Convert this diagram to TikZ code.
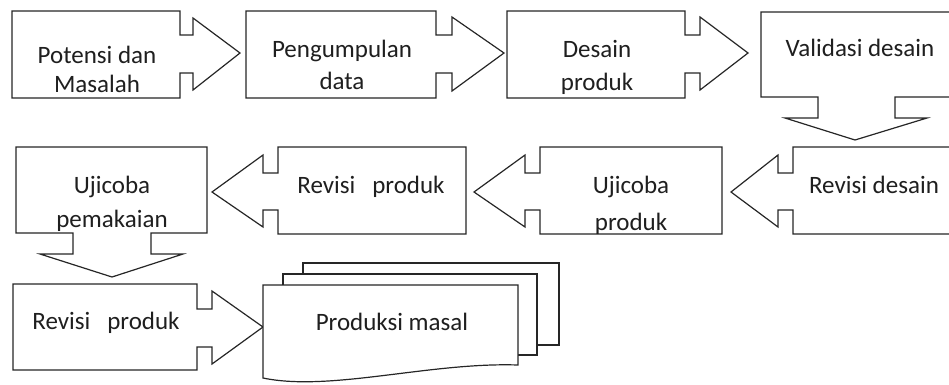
\documentclass[tikz,border=0pt]{standalone}
\usepackage{fontspec}
\setmainfont{Carlito}
\begin{document}
\begin{tikzpicture}[x=1pt,y=-1pt,
  shapeline/.style={draw=black!85,line width=1.2pt,line join=miter,fill=white},
  lbl/.style={anchor=base,inner sep=0pt,text=black!88,font=\fontsize{25}{29}\selectfont}]
\useasboundingbox (0,0) rectangle (949,384);
\clip (0,0) rectangle (949,384);
% Row 1
\path[shapeline] (12,11)--(180,11)--(180,35)--(193,35)--(193,18)--(240,53)--(193,90)--(193,73)--(180,73)--(180,98)--(12,98)--cycle;
\path[shapeline] (246,11)--(436,11)--(436,35)--(452,35)--(452,17)--(504,53)--(452,91)--(452,73)--(436,73)--(436,98)--(246,98)--cycle;
\path[shapeline] (507,11)--(685,11)--(685,35)--(700,35)--(700,17)--(748,53)--(700,90)--(700,73)--(685,73)--(685,98)--(507,98)--cycle;
\path[shapeline] (761,12)--(960,12)--(960,97)--(895,97)--(895,118)--(927,118)--(855,140)--(785,118)--(818,118)--(818,97)--(761,97)--cycle;
% Row 2
\path[shapeline] (960,147)--(793,147)--(793,173)--(778,173)--(778,155)--(731,192)--(778,227)--(778,210)--(793,210)--(793,234)--(960,234)--cycle;
\path[shapeline] (722,147)--(540,147)--(540,173)--(525,173)--(525,155)--(474,192)--(525,227)--(525,210)--(540,210)--(540,234)--(722,234)--cycle;
\path[shapeline] (466,147)--(278,147)--(278,173)--(263,173)--(263,155)--(212,192)--(263,227)--(263,210)--(278,210)--(278,234)--(466,234)--cycle;
\path[shapeline] (16,147)--(207,147)--(207,233)--(151,233)--(151,254)--(183,254)--(112,277)--(40,254)--(73,254)--(73,233)--(16,233)--cycle;
% Row 3
\path[shapeline] (13,284)--(197,284)--(197,309)--(212,309)--(212,291)--(263,327)--(212,364)--(212,347)--(197,347)--(197,370)--(13,370)--cycle;
% Produksi masal (multi document)
\path[shapeline] (303,274)--(303,263)--(559,263)--(559,345)--(537,345);
\path[shapeline] (283,285)--(283,274)--(537,274)--(537,355)--(518,355);
\path[shapeline] (263,285)--(518,285)--(518,365) .. controls (430,362) and (330,392) .. (263,378)--cycle;
% Labels
\node[lbl] (t1a) at (97,63) {Potensi dan};
\node[lbl] (t1b) at (97,92) {Masalah};
\node[lbl] (t2a) at (342,57) {Pengumpulan};
\node[lbl] (t2b) at (342,89) {data};
\node[lbl] (t3a) at (597,57) {Desain};
\node[lbl] (t3b) at (597,90) {produk};
\node[lbl] (t4) at (860,56) {Validasi desain};
\node[lbl] (t5) at (874,193) {Revisi desain};
\node[lbl] (t6a) at (631,193) {Ujicoba};
\node[lbl] (t6b) at (631,230) {produk};
\node[lbl] (t7) at (371,193) {Revisi\ \ \ produk};
\node[lbl] (t8a) at (112,193) {Ujicoba};
\node[lbl] (t8b) at (112,227) {pemakaian};
\node[lbl] (t9) at (106,329) {Revisi\ \ \ produk};
\node[lbl] (t10) at (392,330) {Produksi masal};
\end{tikzpicture}
\end{document}
